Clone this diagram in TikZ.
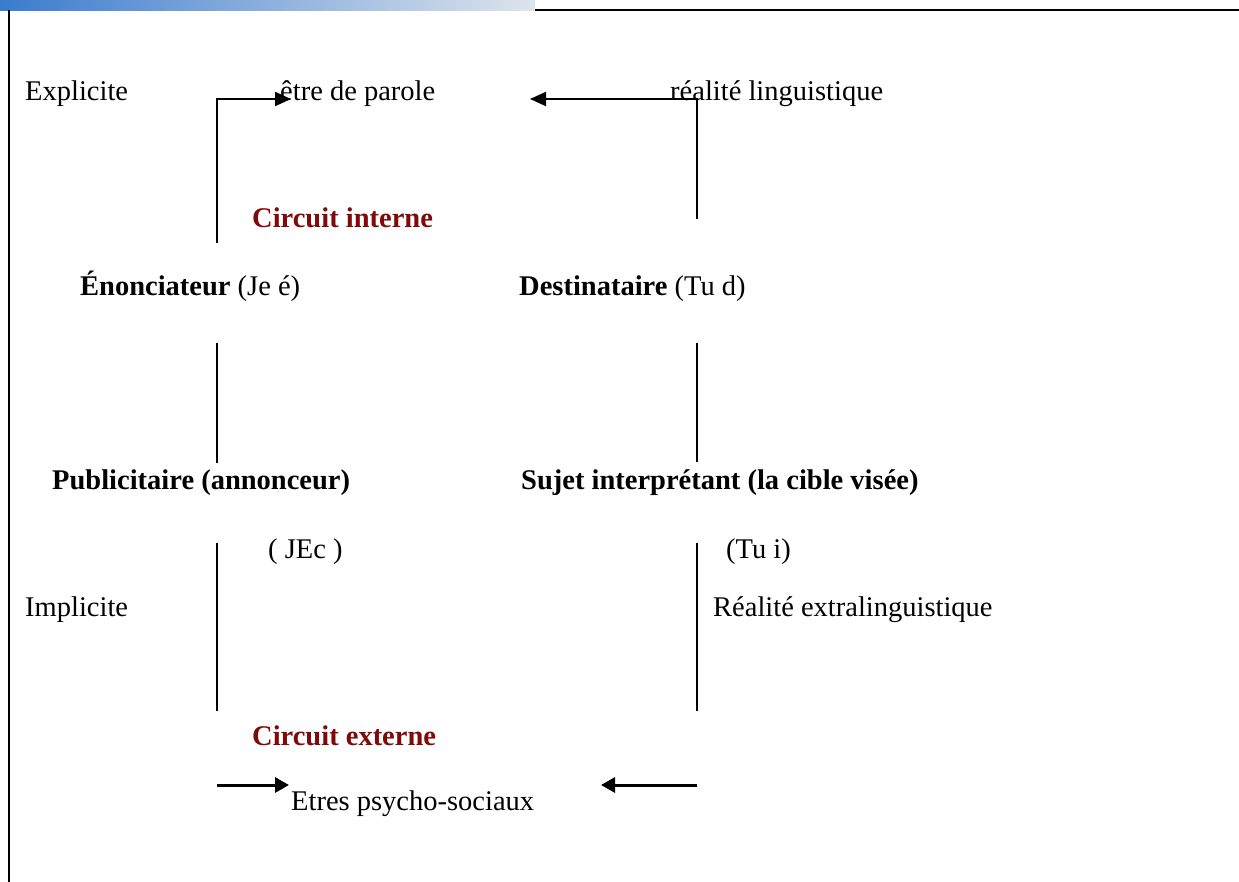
\documentclass[tikz,border=0pt]{standalone}
\usepackage{fontspec}
\setmainfont{Liberation Serif}
\usetikzlibrary{arrows.meta}
\definecolor{circred}{RGB}{128,10,10}
\definecolor{barleft}{RGB}{58,124,206}
\definecolor{barright}{RGB}{222,228,236}
\tikzset{
  lbl/.style={anchor=base west, inner sep=0pt, font=\fontsize{28.5}{31}\selectfont},
  blbl/.style={lbl, font=\fontsize{28.5}{31}\selectfont\bfseries},
  circ/.style={blbl, text=circred},
  rule/.style={line width=2pt},
  conn/.style={line width=2pt},
  arr/.style={line width=2pt, -{Triangle[length=16pt,width=14pt]}},
  arrb/.style={line width=3pt, -{Triangle[length=14pt,width=15pt]}}
}
\begin{document}
\begin{tikzpicture}[x=1pt,y=-1pt]
\useasboundingbox (0,0) rectangle (1239,882);
\fill[white] (0,0) rectangle (1239,882);
% top decoration
\shade[left color=barleft, right color=barright] (0,0) rectangle (535,11);
\draw[rule] (535,10) -- (1239,10);
\draw[rule] (9,10) -- (9,882);

% texts
\node[lbl] (expl) at (25,101) {Explicite};
\node[lbl] (etre) at (280,101) {être de parole};
\node[lbl] (real) at (670,101) {réalité linguistique};
\node[circ] (cint) at (252,228) {Circuit interne};
\node[lbl] (enon) at (80,296) {\textbf{Énonciateur} (Je é)};
\node[lbl] (dest) at (519,296) {\textbf{Destinataire} (Tu d)};
\node[blbl] (pub) at (52,489) {Publicitaire (annonceur)};
\node[blbl] (suj) at (521,489) {Sujet interprétant (la cible visée)};
\node[lbl] (jec) at (268,558) {( JEc )};
\node[lbl] (tui) at (726,558) {(Tu i)};
\node[lbl] (impl) at (25,616) {Implicite};
\node[lbl] (rext) at (713,616) {Réalité extralinguistique};
\node[circ] (cext) at (252,745) {Circuit externe};
\node[lbl] (psy) at (291,810) {Etres psycho-sociaux};

% coordinates for connectors
\coordinate (a1) at (217,243);
\coordinate (a2) at (217,99);
\coordinate (a3) at (291,99);
\coordinate (b1) at (697,219);
\coordinate (b2) at (697,99);
\coordinate (b3) at (530,99);
\coordinate (c1) at (217,343);
\coordinate (c2) at (217,463);
\coordinate (d1) at (697,343);
\coordinate (d2) at (697,462);
\coordinate (e1) at (217,543);
\coordinate (e2) at (217,711);
\coordinate (f1) at (697,543);
\coordinate (f2) at (697,711);
\coordinate (g1) at (217,785);
\coordinate (g2) at (289,785);
\coordinate (h1) at (697,785);
\coordinate (h2) at (601,785);

\draw[arr] (a1) -- (a2) -- (a3);
\draw[arr] (b1) -- (b2) -- (b3);
\draw[conn] (c1) -- (c2);
\draw[conn] (d1) -- (d2);
\draw[conn] (e1) -- (e2);
\draw[conn] (f1) -- (f2);
\draw[arrb] (g1) -- (g2);
\draw[arrb] (h1) -- (h2);
\end{tikzpicture}
\end{document}
